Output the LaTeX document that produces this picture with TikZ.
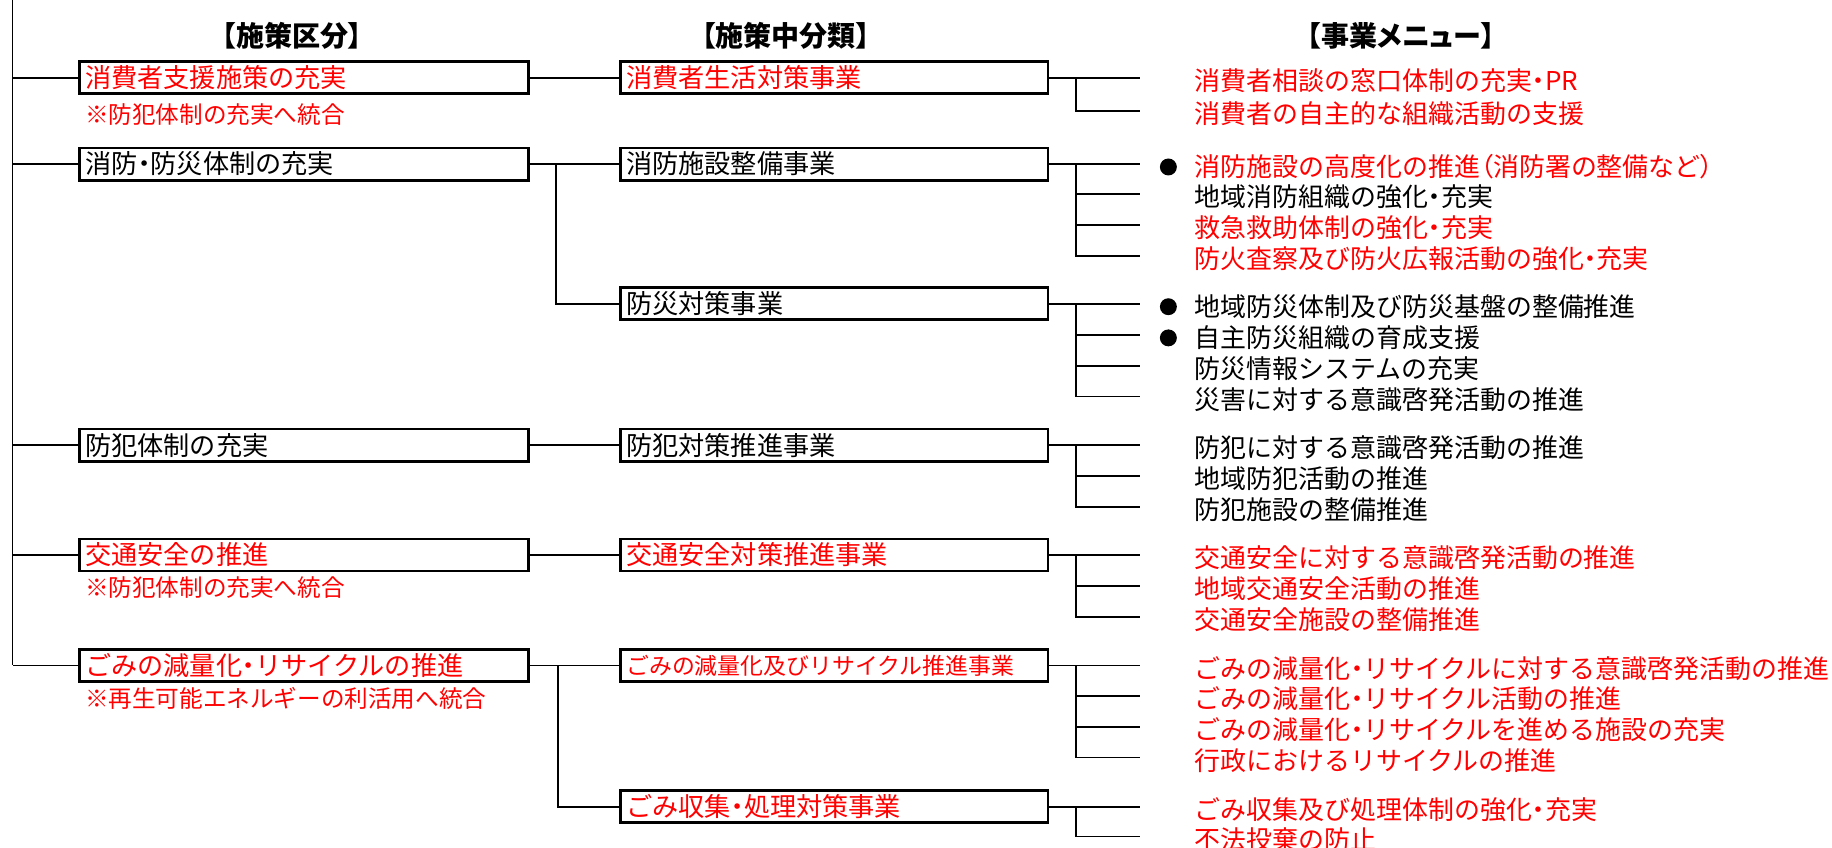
\documentclass[tikz,border=0pt]{standalone}
\usepackage{fontspec}
\setmainfont{Noto Sans CJK JP}
\newfontfamily\paltfont{Noto Sans CJK JP}[RawFeature=+palt]
\newcommand\hw[1]{{\paltfont #1}}
\definecolor{rd}{RGB}{255,0,0}
\newcommand\bxf{\fontsize{22.4pt}{26pt}\selectfont}
\newcommand\itf{\fontsize{22.2pt}{26pt}\selectfont}
\newcommand\ntf{\fontsize{20.2pt}{24pt}\selectfont}
\newcommand\ttf{\paltfont\bfseries\fontsize{24pt}{28pt}\selectfont}
\tikzset{
  conn/.style={draw=black, line width=1.4pt},
  box/.style={draw=black, line width=2.4pt, anchor=west, outer sep=0pt,
    inner xsep=5pt, inner ysep=0pt, minimum height=27.5pt, align=left, font=\bxf},
  boxA/.style={box, text width=374pt},
  boxB/.style={box, text width=356pt},
  item/.style={anchor=west, inner sep=0pt, font=\itf},
  note/.style={anchor=west, inner sep=0pt, font=\ntf, text=rd},
  ttl/.style={anchor=center, inner sep=0pt, font=\ttf},
  bul/.style={circle, fill=black, draw=none, minimum size=14.5pt, inner sep=0pt}
}
\begin{document}
\begin{tikzpicture}[x=1pt,y=-1pt]
\useasboundingbox (0,0) rectangle (1568,725);
\clip (0,0) rectangle (1568,725);
\fill[white] (0,0) rectangle (1568,725);

% titles
\node[ttl] (t1) at (250,31) {【施策区分】};
\node[ttl] (t2) at (672.5,31) {【施策中分類】};
\node[ttl] (t3) at (1199,31) {【事業メニュー】};

% column 1
\node[boxA, text=rd] (a1) at (68,66.5) {消費者支援施策の充実};
\node[boxA] (a2) at (68,140.4) {消防\hw{・}防災体制の充実};
\node[boxA] (a4) at (68,381) {防犯体制の充実};
\node[boxA, text=rd] (a5) at (68,475) {交通安全の推進};
\node[boxA, text=rd] (a6) at (68,569.5) {ごみの減量化\hw{・}リサイクルの推進};

\node[note] (n1) at (72.7,98.4) {※防犯体制の充実へ統合};
\node[note] (n5) at (72.7,503) {※防犯体制の充実へ統合};
\node[note] (n6) at (72.7,597.6) {※再生可能エネルギーの利活用へ統合};

% column 2
\node[boxB, text=rd] (b1) at (531,66.5) {消費者生活対策事業};
\node[boxB] (b2) at (531,140.4) {消防施設整備事業};
\node[boxB] (b3) at (531,260) {防災対策事業};
\node[boxB] (b4) at (531,381) {防犯対策推進事業};
\node[boxB, text=rd] (b5) at (531,475) {交通安全対策推進事業};
\node[boxB, text=rd, font=\fontsize{19.6pt}{24pt}\selectfont] (b6) at (531,569.5) {ごみの減量化及びリサイクル推進事業};
\node[boxB, text=rd] (b7) at (531,690.5) {ごみ収集\hw{・}処理対策事業};

% trunk
\coordinate (tr0) at (10.8,0);
\coordinate (tr1) at (10.8,569.5);
\draw[conn] (tr0) -- (tr1);
\foreach \n in {a1,a2,a4,a5,a6} { \draw[conn] (\n.west) -- (\n.west -| tr0); }

% column 1 -> column 2
\draw[conn] (a1.east) -- (b1.west);
\draw[conn] (a2.east) -- (b2.west);
\draw[conn] (a4.east) -- (b4.west);
\draw[conn] (a5.east) -- (b5.west);
\draw[conn] (a6.east) -- (b6.west);
\coordinate (j1) at (476,140.4);
\coordinate (j2) at (477.5,569.5);
\draw[conn] (j1) |- (b3.west);
\draw[conn] (j2) |- (b7.west);

% column 2 -> menu items
% row 1
\coordinate (k1) at (921,66.5);
\coordinate (e11) at (976,66.5); \coordinate (e12) at (976,95);
\draw[conn] (b1.east) -- (e11);
\draw[conn] (k1) |- (e12);
\node[item, text=rd] (i11) at (1022.5,69) {消費者相談の窓口体制の充実\hw{・}PR};
\node[item, text=rd] (i12) at (1022.5,97.5) {消費者の自主的な組織活動の支援};
% row 2
\coordinate (k2) at (921,140.4);
\coordinate (e21) at (976,140.4); \coordinate (e22) at (976,166);
\coordinate (e23) at (976,192.6); \coordinate (e24) at (976,219);
\draw[conn] (b2.east) -- (e21);
\foreach \e in {e22,e23,e24} { \draw[conn] (k2) |- (\e); }
\node[bul] (d21) at (1000,142.9) {};
\node[item, text=rd] (i21) at (1022.5,142.9) {消防施設の高度化の推進\hw{（}消防署の整備など\hw{）}};
\node[item] (i22) at (1022.5,168.5) {地域消防組織の強化\hw{・}充実};
\node[item, text=rd] (i23) at (1022.5,195.1) {救急救助体制の強化\hw{・}充実};
\node[item, text=rd] (i24) at (1022.5,221.5) {防火査察及び防火広報活動の強化\hw{・}充実};
% row 3
\coordinate (k3) at (921,260);
\coordinate (e31) at (976,260); \coordinate (e32) at (976,286.7);
\coordinate (e33) at (976,313); \coordinate (e34) at (976,339.5);
\draw[conn] (b3.east) -- (e31);
\foreach \e in {e32,e33,e34} { \draw[conn] (k3) |- (\e); }
\node[bul] (d31) at (1000,262.5) {};
\node[bul] (d32) at (1000,289.2) {};
\node[item] (i31) at (1022.5,262.5) {地域防災体制及び防災基盤の整備推進};
\node[item] (i32) at (1022.5,289.2) {自主防災組織の育成支援};
\node[item] (i33) at (1022.5,315.5) {防災情報システムの充実};
\node[item] (i34) at (1022.5,342) {災害に対する意識啓発活動の推進};
% row 4
\coordinate (k4) at (921,381);
\coordinate (e41) at (976,381); \coordinate (e42) at (976,407.5);
\coordinate (e43) at (976,433.7);
\draw[conn] (b4.east) -- (e41);
\foreach \e in {e42,e43} { \draw[conn] (k4) |- (\e); }
\node[item] (i41) at (1022.5,383.5) {防犯に対する意識啓発活動の推進};
\node[item] (i42) at (1022.5,410) {地域防犯活動の推進};
\node[item] (i43) at (1022.5,436.2) {防犯施設の整備推進};
% row 5
\coordinate (k5) at (921,475);
\coordinate (e51) at (976,475); \coordinate (e52) at (976,501.6);
\coordinate (e53) at (976,528);
\draw[conn] (b5.east) -- (e51);
\foreach \e in {e52,e53} { \draw[conn] (k5) |- (\e); }
\node[item, text=rd] (i51) at (1022.5,477.5) {交通安全に対する意識啓発活動の推進};
\node[item, text=rd] (i52) at (1022.5,504.1) {地域交通安全活動の推進};
\node[item, text=rd] (i53) at (1022.5,530.5) {交通安全施設の整備推進};
% row 6
\coordinate (k6) at (921,569.5);
\coordinate (e61) at (976,569.5); \coordinate (e62) at (976,595.8);
\coordinate (e63) at (976,622); \coordinate (e64) at (976,648.3);
\draw[conn] (b6.east) -- (e61);
\foreach \e in {e62,e63,e64} { \draw[conn] (k6) |- (\e); }
\node[item, text=rd] (i61) at (1022.5,572) {ごみの減量化\hw{・}リサイクルに対する意識啓発活動の推進};
\node[item, text=rd] (i62) at (1022.5,598.3) {ごみの減量化\hw{・}リサイクル活動の推進};
\node[item, text=rd] (i63) at (1022.5,624.5) {ごみの減量化\hw{・}リサイクルを進める施設の充実};
\node[item, text=rd] (i64) at (1022.5,650.8) {行政におけるリサイクルの推進};
% row 7
\coordinate (k7) at (921,690.5);
\coordinate (e71) at (976,690.5); \coordinate (e72) at (976,716);
\draw[conn] (b7.east) -- (e71);
\draw[conn] (k7) |- (e72);
\node[item, text=rd] (i71) at (1022.5,693) {ごみ収集及び処理体制の強化\hw{・}充実};
\node[item, text=rd] (i72) at (1022.5,718.5) {不法投棄の防止};
\end{tikzpicture}
\end{document}
